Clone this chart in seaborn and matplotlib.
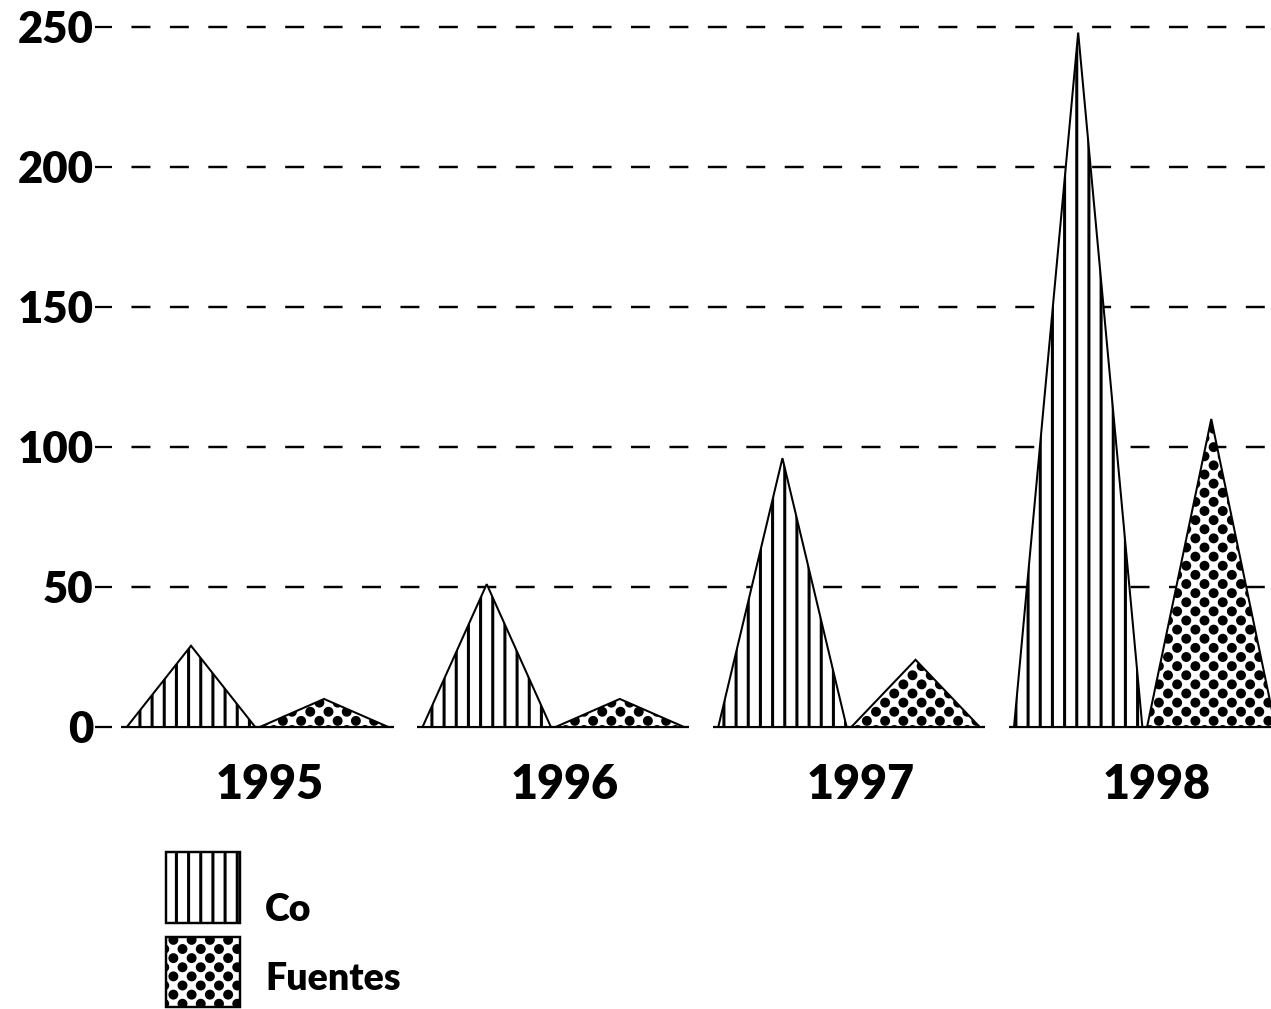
import numpy as np
import pandas as pd
import matplotlib
matplotlib.use("Agg")
import matplotlib.pyplot as plt
import matplotlib.hatch as mhatch
from matplotlib.path import Path
from matplotlib.patches import Rectangle
import seaborn as sns

# ---------------- data ----------------
years = ["1995", "1996", "1997", "1998"]
co_values = [29, 51, 96, 248]
fuentes_values = [10, 10, 24, 110]
series_names = ["Co", "Fuentes"]
y_ticks = [0, 50, 100, 150, 200, 250]


# ------------- custom dotted hatch (diagonal dot grid) -------------
class DiagonalDots(mhatch.HatchPatternBase):
    def __init__(self, hatch, density):
        n = hatch.count("*")
        self.rows = 8 * n
        centers = []
        if self.rows:
            step = 1.0 / self.rows
            for r in range(self.rows + 1):
                y = r * step
                x = 0.0 if r % 2 == 0 else step
                while x <= 1.0 + 1e-9:
                    centers.append((x, y))
                    x += 2 * step
        self.centers = np.array(centers, dtype=float).reshape(-1, 2)
        circ = Path.unit_circle()
        self.cv = circ.vertices
        self.cc = circ.codes
        self.num_vertices = len(self.centers) * len(self.cv)

    def set_vertices_and_codes(self, vertices, codes):
        r = 0.047
        vertices[:] = np.concatenate([self.cv * r + c for c in self.centers])
        codes[:] = np.tile(self.cc, len(self.centers))


mhatch._hatch_types = [t for t in mhatch._hatch_types if t is not mhatch.Stars] + [DiagonalDots]

# ---------------- style ----------------
sns.set_theme(style="white")
plt.rcParams["font.family"] = ["Lato", "DejaVu Sans"]
plt.rcParams["hatch.linewidth"] = 3.0
plt.rcParams["hatch.color"] = "black"
plt.rcParams["lines.scale_dashes"] = False

DPI = 73
W, H = 1271, 1009
fig = plt.figure(figsize=(W / DPI, H / DPI), dpi=DPI, facecolor="white")
ax = fig.add_axes([112 / W, 0.2712, 1 - 112 / W, 0.709])
ax.set_facecolor("white")

df = pd.DataFrame({
    "year": years * 2,
    "series": [series_names[0]] * len(years) + [series_names[1]] * len(years),
    "value": co_values + fuentes_values,
})

offsets = {"Co": -0.225, "Fuentes": 0.225}
hatches = {"Co": "|", "Fuentes": "*"}
half = 0.217

for _, row in df.iterrows():
    i = years.index(row["year"])
    c = i + offsets[row["series"]]
    poly = ax.fill([c - half, c, c + half], [0, row["value"], 0],
                   facecolor="white", edgecolor="black", hatch=hatches[row["series"]],
                   lw=2, zorder=3)
    for p in poly:
        if hasattr(p, "set_hatch_linewidth"):
            p.set_hatch_linewidth(3.0)

# baseline segments under each group
for i in range(len(years)):
    ax.hlines(0, i - 0.46, i + 0.46, color="black", lw=2.2, zorder=2)

# dashed gridlines
for t in y_ticks[1:]:
    ax.axhline(t, color="black", lw=2.4, linestyle=(18.7, (18.7, 19.2)), zorder=1)

ax.set_xlim(-0.4921, 3.427)
ax.set_ylim(-3, 252.5)

ax.set_yticks(y_ticks)
ax.set_yticklabels([str(t) for t in y_ticks], fontsize=43, fontweight="heavy", color="black")
ax.tick_params(axis="y", left=True, length=17, width=2.2, pad=1, color="black", direction="out")

ax.set_xticks([i + 0.04 for i in range(len(years))])
ax.set_xticklabels(years, fontsize=46, fontweight="heavy", color="black")
ax.tick_params(axis="x", bottom=False, length=0, pad=27)

for s in ax.spines.values():
    s.set_visible(False)
ax.grid(False)

# ---------------- legend ----------------
legend_boxes = [(166, 852, 74, 71), (166, 937, 74, 70)]
legend_text_y = [910, 979]
for name, (bx, by, bw, bh), ty in zip(series_names, legend_boxes, legend_text_y):
    rect = Rectangle((bx / W, 1 - (by + bh) / H), bw / W, bh / H,
                     transform=fig.transFigure, facecolor="white",
                     edgecolor="black", lw=2.4, hatch=hatches[name])
    if hasattr(rect, "set_hatch_linewidth"):
        rect.set_hatch_linewidth(3.0)
    fig.add_artist(rect)
    fig.text(265 / W, 1 - ty / H, name, fontsize=37, fontweight="heavy",
             color="black", ha="left", va="center")

fig.savefig("out.png", dpi=DPI, facecolor="white")
